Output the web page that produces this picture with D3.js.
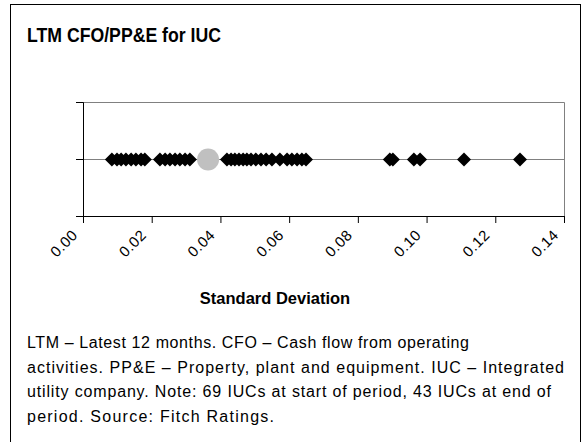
<!DOCTYPE html>
<html lang="en">
<head>
<meta charset="UTF-8">
<title>LTM CFO/PP&amp;E for IUC</title>
<style>
html,body{margin:0;width:582px;height:442px;overflow:hidden;background:#fff;font-family:Arial,"Liberation Sans",Helvetica,sans-serif;}
svg{display:block;}
</style>
</head>
<body>
<svg width="582" height="442"></svg>
<script src="https://d3js.org/d3.v7.min.js"></script>
<script>
// standard deviation of LTM CFO/PP&E per IUC
const sdValues = [
  0.0084, 0.0099, 0.0111, 0.0125, 0.0140, 0.0154, 0.0169, 0.0180,
  0.0224, 0.0239, 0.0253, 0.0268, 0.0282, 0.0297, 0.0311,
  0.0419, 0.0431, 0.0442, 0.0454, 0.0466, 0.0477, 0.0489, 0.0503,
  0.0518, 0.0533, 0.0550, 0.0573, 0.0594, 0.0608, 0.0623, 0.0637, 0.0649,
  0.0893, 0.0902, 0.0963, 0.0981, 0.1109, 0.1272
];
const meanValue = [0.0364];
const xTicks = [0, 0.02, 0.04, 0.06, 0.08, 0.10, 0.12, 0.14];
const yTicks = [-1, 0, 1];
const title = "LTM CFO/PP&E for IUC";
const xTitle = "Standard Deviation";
const noteLines = [
  "LTM \u2013 Latest 12 months. CFO \u2013 Cash flow from operating",
  "activities. PP&E \u2013 Property, plant and equipment. IUC \u2013 Integrated",
  "utility company. Note: 69 IUCs at start of period, 43 IUCs at end of",
  "period. Source: Fitch Ratings."
];
const noteWidths = [442, 537, 524, 247];

const svg = d3.select("svg");
const pL = 83, pR = 564, pT = 102, pB = 216;

// outer frame
svg.append("rect").attr("x",10.5).attr("y",4.5).attr("width",570).attr("height",460)
  .attr("fill","none").attr("stroke","#000").attr("stroke-width",1);

svg.append("text").attr("x",27).attr("y",42)
  .attr("textLength",194).attr("lengthAdjust","spacingAndGlyphs")
  .style("font-size","21px").style("font-weight","bold").text(title);

const x = d3.scaleLinear().domain([0,0.14]).range([pL,pR]);
const y = d3.scaleLinear().domain([-1,1]).range([pB,pT]);

// plot area border (gray)
svg.append("path")
  .attr("d",`M${pL},${pT+0.5}H${pR+0.5}V${pB}`)
  .attr("fill","none").attr("stroke","#808080");

// center gridline
svg.append("line")
  .attr("x1",pL-7).attr("x2",pR).attr("y1",y(0)+0.5).attr("y2",y(0)+0.5)
  .attr("stroke","#808080");

const yAxis = svg.append("g").attr("transform",`translate(${pL},0)`)
  .call(d3.axisLeft(y).tickValues(yTicks).tickSize(7).tickFormat(""));
yAxis.select(".domain").attr("stroke","#000");

const xAxis = svg.append("g").attr("transform",`translate(0,${pB})`)
  .call(d3.axisBottom(x).tickValues(xTicks).tickSize(7).tickSizeOuter(0).tickFormat(d3.format(".2f")));
xAxis.select(".domain").attr("stroke","#000");
xAxis.selectAll(".tick text")
  .attr("text-anchor","end").attr("dy",null).attr("y",0)
  .attr("transform","translate(-5,20) rotate(-45)")
  .style("font-size","15px").style("letter-spacing","0.5px")
  .style("font-family","Arial, 'Liberation Sans', sans-serif");

svg.append("text").attr("x",275).attr("y",304).attr("text-anchor","middle")
  .style("font-size","16.5px").style("font-weight","bold").text(xTitle);

// markers
const diamond = d3.symbol().type(d3.symbolSquare).size(98);
svg.selectAll("path.pt").data(sdValues).join("path")
  .attr("class","pt")
  .attr("d",diamond)
  .attr("transform",d=>`translate(${x(d)},${y(0)+0.5}) rotate(45)`)
  .attr("fill","#000");

svg.selectAll("circle.mean").data(meanValue).join("circle")
  .attr("class","mean")
  .attr("cx",d=>x(d)).attr("cy",y(0)+0.5).attr("r",11)
  .attr("fill","#c0c0c0");

svg.selectAll("text.note").data(noteLines).join("text")
  .attr("class","note")
  .attr("x",27).attr("y",(d,i)=>348+i*24.5)
  .attr("textLength",(d,i)=>noteWidths[i]).attr("lengthAdjust","spacing")
  .style("font-size","16px").text(d=>d);
</script>
</body>
</html>
